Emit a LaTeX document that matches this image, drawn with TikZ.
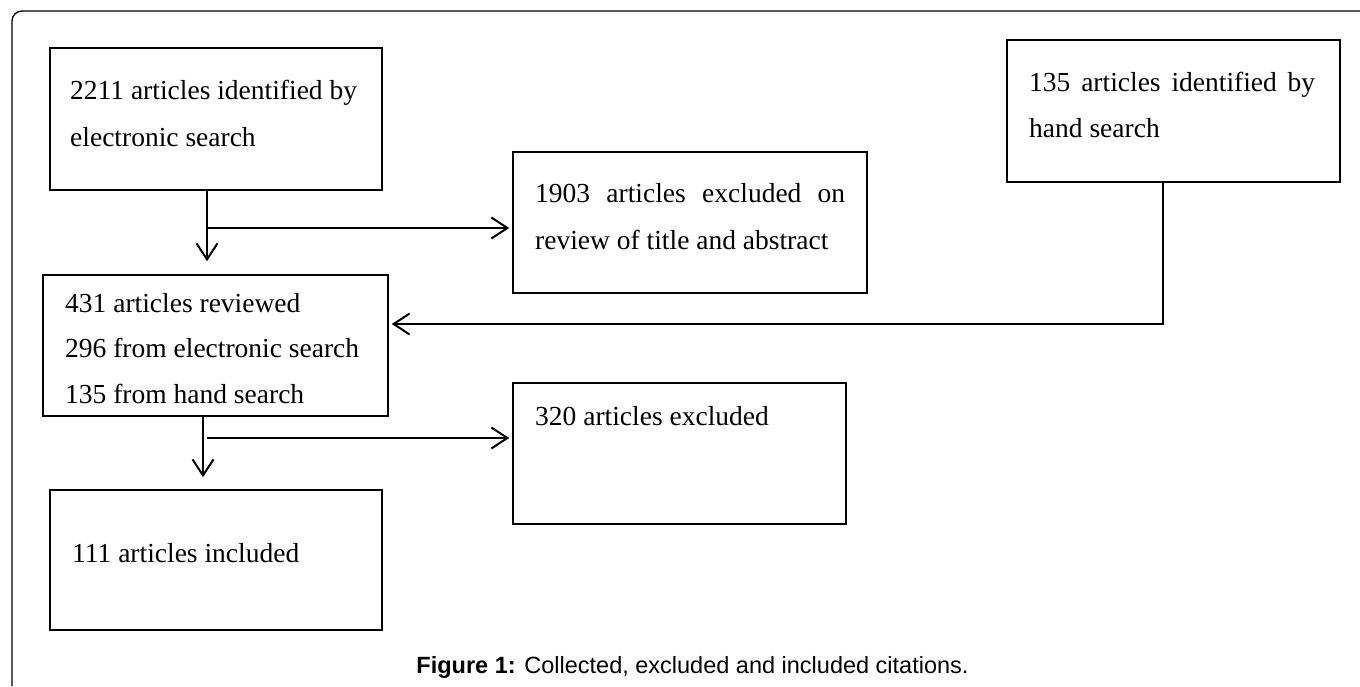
\documentclass[tikz,border=0pt]{standalone}
\usepackage{fontspec}
\setmainfont{Liberation Serif}
\newfontfamily\capfont{Liberation Sans}
\usetikzlibrary{arrows.meta}
\begin{document}
\begin{tikzpicture}[x=1pt,y=-1pt,
  box/.style={draw=black,line width=1.6pt,rectangle,inner sep=0pt},
  txt/.style={inner sep=0pt,anchor=base west,font=\fontsize{27.5}{33}\selectfont},
  conn/.style={draw=black,line width=2pt},
  arr/.style={conn,-{Straight Barb[length=16pt,width=21pt]}},
  frame/.style={draw=black,line width=1.3pt,rounded corners=10pt}]
\useasboundingbox (0,0) rectangle (1360,686);
% outer frame (top and left edges visible)
\draw[frame] (12,686) -- (12,11) -- (1360,11);
% boxes
\node[box,minimum width=332pt,minimum height=142pt] (A) at (216,119) {};
\node[box,minimum width=354pt,minimum height=141pt] (B) at (690,222.5) {};
\node[box,minimum width=333pt,minimum height=142pt] (C) at (1173.5,111) {};
\node[box,minimum width=345pt,minimum height=141pt] (D) at (215.5,345.5) {};
\node[box,minimum width=333pt,minimum height=141pt] (E) at (679.5,453.5) {};
\node[box,minimum width=332pt,minimum height=140pt] (F) at (216,560) {};
% texts
\node[txt] (a1) at (70,99) {2211 articles identified by};
\node[txt] (a2) at (70,146) {electronic search};
\node[txt] (b1) at (535,202) {\makebox[310pt][s]{1903 articles excluded on}};
\node[txt] (b2) at (535,249) {review of title and abstract};
\node[txt] (c1) at (1029,91) {\makebox[286pt][s]{135 articles identified by}};
\node[txt] (c2) at (1029,137) {hand search};
\node[txt] (d1) at (65,312) {431 articles reviewed};
\node[txt] (d2) at (65,357) {296 from electronic search};
\node[txt] (d3) at (65,403) {135 from hand search};
\node[txt] (e1) at (535,425) {320 articles excluded};
\node[txt] (f1) at (72,562) {111 articles included};
\node[inner sep=0pt,anchor=base,font=\capfont\fontsize{23.5}{28}\selectfont] (cap) at (692.5,673) {\textbf{Figure 1:} Collected, excluded and included citations.};
% connectors
\coordinate (jA) at (207,228);
\coordinate (cC) at (1163,324);
\coordinate (vD) at (203,438);
\coordinate (jD) at (207,438);
\draw[arr,shorten >=13pt] (A.south -| jA) -- (D.north -| jA);
\draw[arr,shorten >=3pt] (jA) -- (B.west |- jA);
\draw[arr,shorten >=3pt] (C.south -| cC) -- (cC) -- (D.east |- cC);
\draw[arr,shorten >=12pt] (D.south -| vD) -- (F.north -| vD);
\draw[arr,shorten >=3pt] (jD) -- (E.west |- jD);
\end{tikzpicture}
\end{document}
